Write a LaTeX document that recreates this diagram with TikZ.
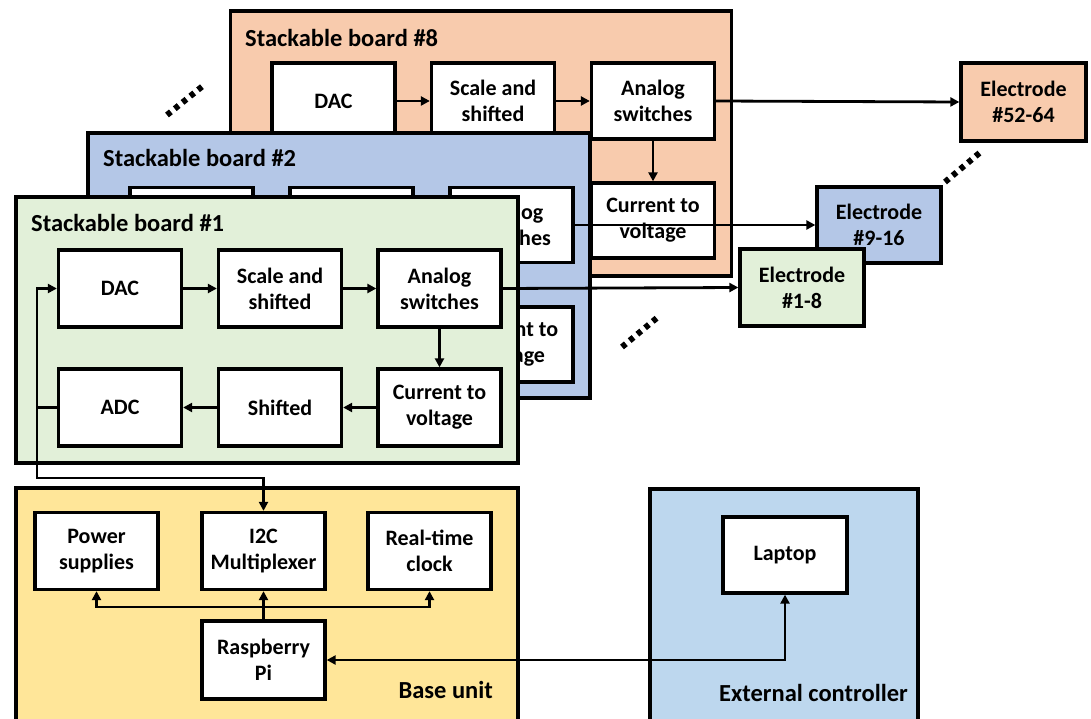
\documentclass[tikz,border=0pt]{standalone}
\usepackage{fontspec}
\setmainfont{Carlito}
\usetikzlibrary{arrows.meta}
\definecolor{orangeb}{HTML}{F8CBAD}
\definecolor{blueb}{HTML}{B4C7E7}
\definecolor{greenb}{HTML}{E2F0D9}
\definecolor{yellowb}{HTML}{FFE699}
\definecolor{extb}{HTML}{BDD7EE}
\tikzset{
  board/.style={draw, line width=3.3pt, inner sep=0pt},
  blk/.style={draw, fill=white, line width=3.3pt, minimum width=123pt, minimum height=77pt,
    align=center, inner sep=0pt, font=\fontsize{22}{26}\selectfont\bfseries},
  ttl/.style={anchor=west, inner sep=0pt, font=\fontsize{24.5}{28}\selectfont\bfseries},
  arr/.style={line width=2.8pt, -{Triangle[length=9pt,width=9pt]}},
  barr/.style={line width=2.8pt, {Triangle[length=9pt,width=9pt]}-{Triangle[length=9pt,width=9pt]}},
  ln/.style={line width=2.8pt},
  dots/.style={line width=6pt, dash pattern=on 5pt off 5pt}
}
\begin{document}
\begin{tikzpicture}[x=1pt,y=-1pt]
\useasboundingbox (0,0) rectangle (1091,719);
% ---------- board 8 ----------
\node[board, fill=orangeb, minimum width=501pt, minimum height=265pt] (b8) at (481,143.5) {};
\node[ttl] (t8) at (245,38) {Stackable board \#8};
\node[blk, minimum height=76pt] (d8) at (333.5,101) {DAC};
\node[blk, minimum height=76pt] (s8) at (493,101) {Scale and\\shifted};
\node[blk, minimum height=76pt] (a8) at (653,101) {Analog\\switches};
\node[blk, minimum height=75pt] (c8) at (653,220.5) {Current to\\voltage};
\draw[arr] (d8) -- (s8);
\draw[arr] (s8) -- (a8);
\draw[arr] (a8) -- (c8);
\node[blk, fill=orangeb, minimum width=125pt, minimum height=78pt] (e52) at (1023.5,102) {Electrode\\\#52-64};
\draw[arr] (a8.east) -- (e52.west);
% ---------- board 2 ----------
\node[board, fill=blueb, minimum width=502pt, minimum height=265pt] (b2) at (339,265.5) {};
\node[ttl] (t2) at (103,158) {Stackable board \#2};
\node[blk, minimum height=75pt] (d2) at (191.5,225) {};
\node[blk, minimum height=75pt] (s2) at (351.5,225) {};
\node[blk, minimum height=75pt] (a2) at (511.5,225) {Analog\\switches};
\node[blk, minimum height=75pt] (c2) at (511.5,344.5) {Current to\\voltage};
\node[blk, fill=blueb, minimum width=124pt, minimum height=76pt] (e9) at (879,225) {Electrode\\\#9-16};
\draw[arr] (a2.east) -- (e9.west);
% ---------- board 1 ----------
\node[board, fill=greenb, minimum width=502pt, minimum height=266pt] (b1) at (267,330) {};
\node[ttl] (t1) at (31,223) {Stackable board \#1};
\node[blk] (d1) at (120,288.5) {DAC};
\node[blk] (s1) at (280,288.5) {Scale and\\shifted};
\node[blk] (a1) at (439.5,288.5) {Analog\\switches};
\node[blk] (adc) at (120,407.5) {ADC};
\node[blk] (sh1) at (280,407.5) {Shifted};
\node[blk] (c1) at (439.5,407.5) {Current to\\voltage};
\draw[arr] (d1) -- (s1);
\draw[arr] (s1) -- (a1);
\draw[arr] (a1) -- (c1);
\draw[arr] (c1) -- (sh1);
\draw[arr] (sh1) -- (adc);
\node[blk, fill=greenb, minimum width=124pt, minimum height=77pt] (e1) at (802,287.5) {Electrode\\\#1-8};
\draw[arr] (a1.east) -- (e1.west);
\coordinate (fb) at (37,407.5);
\draw[ln] (adc.west) -- (fb);
\draw[arr] (fb) |- (d1.west);
% ---------- base unit ----------
\node[board, fill=yellowb, minimum width=502pt, minimum height=240pt] (base) at (267,608) {};
\node[anchor=east, inner sep=0pt, font=\fontsize{24.5}{28}\selectfont\bfseries] (tb) at (493,690) {Base unit};
\node[blk] (ps) at (96.5,551) {Power\\supplies};
\node[blk] (i2c) at (263.5,551) {I2C\\Multiplexer};
\node[blk] (rtc) at (429.5,551) {Real-time\\clock};
\node[blk, minimum height=78pt] (pi) at (263.5,660) {Raspberry\\Pi};
\draw[arr] (fb) -- (37,478) -| (i2c.north);
\coordinate (bus) at (263.5,607);
\draw[arr] (pi.north) -- (i2c.south);
\draw[arr] (bus) -| (ps.south);
\draw[arr] (bus) -| (rtc.south);
% ---------- external controller ----------
\node[board, fill=extb, minimum width=268pt, minimum height=240pt] (ext) at (784,609) {};
\node[anchor=east, inner sep=0pt, font=\fontsize{24.5}{28}\selectfont\bfseries] (te) at (908,693) {External controller};
\node[blk, minimum width=124pt, minimum height=76pt] (lap) at (785,555) {Laptop};
\draw[barr] (pi.east) -| (lap.south);
% ---------- dots ----------
\draw[dots] (167,115) -- (204,85);
\draw[dots] (622,347) -- (658,317);
\draw[dots] (945,182) -- (983,150);
\end{tikzpicture}
\end{document}
